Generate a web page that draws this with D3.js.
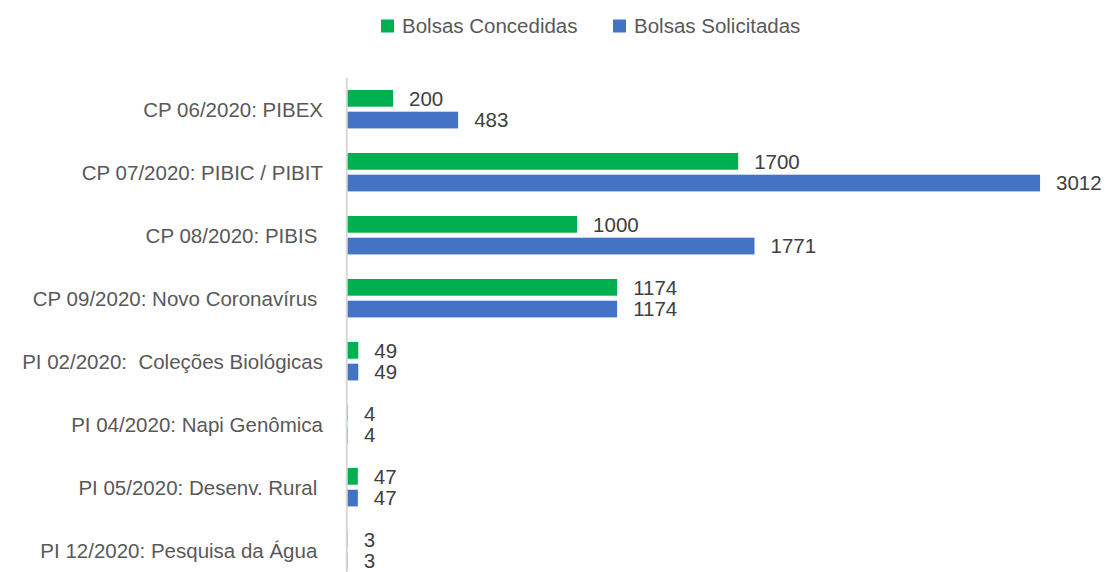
<!DOCTYPE html>
<html>
<head>
<meta charset="utf-8">
<script src="https://cdn.jsdelivr.net/npm/d3@7"></script>
<style>
  html, body { margin: 0; padding: 0; background: #fff; }
  svg { display: block; }
  text { font-family: "Liberation Sans", Arial, sans-serif; white-space: pre; }
</style>
</head>
<body>
<svg id="chart" width="1106" height="572"></svg>
<script>
const categories = [
  "CP 06/2020: PIBEX",
  "CP 07/2020: PIBIC / PIBIT",
  "CP 08/2020: PIBIS ",
  "CP 09/2020: Novo Coronavírus ",
  "PI 02/2020:  Coleções Biológicas",
  "PI 04/2020: Napi Genômica",
  "PI 05/2020: Desenv. Rural ",
  "PI 12/2020: Pesquisa da Água "
];
const seriesNames = ["Bolsas Concedidas", "Bolsas Solicitadas"];
const concedidas = [200, 1700, 1000, 1174, 49, 4, 47, 3];
const solicitadas = [483, 3012, 1771, 1174, 49, 4, 47, 3];
const colors = ["#00B050", "#4472C4"];

const svg = d3.select("#chart");
const W = 1106, H = 572;

const x = d3.scaleLinear().domain([0, 3500]).range([347, 347 + 3500 * 0.2301]);
const y0 = d3.scaleBand().domain(categories).range([77.7, 77.7 + 63 * categories.length])
  .paddingInner(0.39).paddingOuter(0.195);
const y1 = d3.scaleBand().domain(seriesNames).range([0, y0.bandwidth()]).paddingInner(0.23);

const data = categories.map((c, i) => ({ cat: c, vals: [concedidas[i], solicitadas[i]] }));

const groups = svg.selectAll("g.cat").data(data).enter().append("g")
  .attr("class", "cat")
  .attr("transform", d => `translate(0,${y0(d.cat)})`);

groups.selectAll("rect").data(d => d.vals.map((v, j) => ({ v, s: seriesNames[j], j })))
  .enter().append("rect")
  .attr("x", x(0))
  .attr("y", d => y1(d.s))
  .attr("width", d => x(d.v) - x(0))
  .attr("height", y1.bandwidth())
  .attr("fill", d => colors[d.j]);

groups.selectAll("text.val").data(d => d.vals.map((v, j) => ({ v, s: seriesNames[j], j })))
  .enter().append("text")
  .attr("class", "val")
  .attr("x", d => x(d.v) + 16)
  .attr("y", d => y1(d.s) + y1.bandwidth() / 2)
  .attr("dy", "0.36em")
  .attr("font-size", 20.5)
  .attr("fill", "#404040")
  .text(d => d.v);

// axis line (drawn over bar bases)
svg.append("line")
  .attr("x1", x(0) - 0.25).attr("x2", x(0) - 0.25)
  .attr("y1", y0.range()[0]).attr("y2", y0.range()[1])
  .attr("stroke", "#D9D9D9").attr("stroke-width", 2);

// category labels
svg.selectAll("text.cat").data(categories).enter().append("text")
  .attr("class", "cat")
  .attr("x", 323)
  .attr("y", d => y0(d) + y0.bandwidth() / 2)
  .attr("dy", "0.36em")
  .attr("text-anchor", "end")
  .attr("font-size", 20.5)
  .attr("fill", "#595959")
  .text(d => d);

// legend
const legendX = [381, 613];
const leg = svg.selectAll("g.leg").data(seriesNames).enter().append("g")
  .attr("class", "leg")
  .attr("transform", (d, i) => `translate(${legendX[i]},0)`);
leg.append("rect").attr("x", 0).attr("y", 19.5).attr("width", 13).attr("height", 13)
  .attr("fill", (d, i) => colors[i]);
leg.append("text").attr("x", 21).attr("y", 26).attr("dy", "0.36em")
  .attr("font-size", 20.5).attr("fill", "#595959").text(d => d);
</script>
</body>
</html>
